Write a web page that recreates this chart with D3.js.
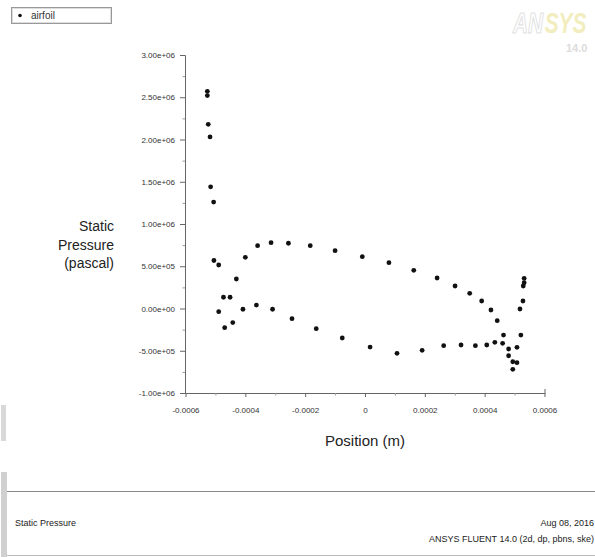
<!DOCTYPE html>
<html>
<head>
<meta charset="utf-8">
<script src="https://cdn.jsdelivr.net/npm/d3@7"></script>
<style>
  html, body { margin: 0; padding: 0; background: #fff; }
  svg { display: block; font-family: "Liberation Sans", Arial, sans-serif; }
</style>
</head>
<body>
<svg id="chart" width="595" height="557"></svg>
<script>
// Position (m) of each airfoil face
const positionM = [
  -0.000527, -0.000527, -0.000524, -0.000518, -0.000516, -0.000506,
  -0.000505, -0.000489, -0.000430, -0.000400, -0.000359, -0.000314,
  -0.000256, -0.000183, -0.000100, -0.000009, 0.000080, 0.000163,
  0.000241, 0.000301, 0.000350, 0.000390, 0.000421, 0.000442, 0.000463,
  0.000480, 0.000480, 0.000494, 0.000508, 0.000494, 0.000508, 0.000521,
  0.000518, 0.000528, 0.000529, 0.000532, 0.000532,
  0.000460, 0.000434, 0.000407, 0.000369, 0.000321, 0.000263, 0.000191,
  0.000107, 0.000017, -0.000076, -0.000163, -0.000244, -0.000309,
  -0.000363, -0.000408, -0.000442, -0.000469, -0.000489, -0.000473, -0.000451
];
// Static pressure (pascal)
const staticPressure = [
  2.57e6, 2.52e6, 2.18e6, 2.03e6, 1.44e6, 1.26e6,
  0.568e6, 0.515e6, 0.349e6, 0.606e6, 0.743e6, 0.779e6,
  0.772e6, 0.743e6, 0.684e6, 0.613e6, 0.542e6, 0.452e6,
  0.361e6, 0.266e6, 0.180e6, 0.089e6, -0.018e6, -0.144e6, -0.314e6,
  -0.479e6, -0.559e6, -0.630e6, -0.641e6, -0.720e6, -0.459e6, -0.314e6,
  -0.006e6, 0.089e6, 0.266e6, 0.305e6, 0.357e6,
  -0.412e6, -0.400e6, -0.432e6, -0.440e6, -0.432e6, -0.440e6, -0.495e6,
  -0.530e6, -0.456e6, -0.349e6, -0.239e6, -0.121e6, -0.009e6,
  0.041e6, -0.009e6, -0.166e6, -0.227e6, -0.038e6, 0.133e6, 0.133e6
];
const xTickValues = [-0.0006, -0.0004, -0.0002, 0, 0.0002, 0.0004, 0.0006];
const xTickLabels = ["-0.0006", "-0.0004", "-0.0002", "0", "0.0002", "0.0004", "0.0006"];
const xMinorValues = [-0.0005, -0.0003, -0.0001, 0.0001, 0.0003, 0.0005];
const yTickValues = [-1e6, -0.5e6, 0, 0.5e6, 1e6, 1.5e6, 2e6, 2.5e6, 3e6];
const yTickLabels = ["-1.00e+06", "-5.00e+05", "0.00e+00", "5.00e+05", "1.00e+06", "1.50e+06", "2.00e+06", "2.50e+06", "3.00e+06"];
const yMinorValues = [-0.75e6, -0.25e6, 0.25e6, 0.75e6, 1.25e6, 1.75e6, 2.25e6, 2.75e6];
const seriesName = "airfoil";
const yTitleLines = ["Static", "Pressure", "(pascal)"];
const xTitle = "Position (m)";
const footerLeft = "Static Pressure";
const footerRight = ["Aug 08, 2016", "ANSYS FLUENT 14.0 (2d, dp, pbns, ske)"];

const svg = d3.select("#chart");
const x = d3.scaleLinear().domain([-0.0006, 0.0006]).range([185.5, 544.5]);
const y = d3.scaleLinear().domain([-1e6, 3e6]).range([393, 55]);

// ANSYS watermark logo
const logo = svg.append("g").attr("opacity", 0.55)
  .attr("transform", "translate(513,33) scale(0.72,1)");
logo.append("text").attr("x", 0).attr("y", 0)
  .attr("font-size", 29).attr("font-weight", "bold").attr("font-style", "italic")
  .attr("fill", "none").attr("stroke", "#c8c8c8").attr("stroke-width", 1.2)
  .text("AN");
logo.append("text").attr("x", 44).attr("y", 0)
  .attr("font-size", 29).attr("font-weight", "bold").attr("font-style", "italic")
  .attr("fill", "#e9e08a")
  .text("SYS");
svg.append("text").attr("x", 566).attr("y", 52).attr("opacity", 0.55)
  .attr("font-size", 11).attr("fill", "#c0c0c0").attr("font-weight", "bold")
  .text("14.0");

// Legend
const lg = svg.append("g");
lg.append("rect").attr("x", 11.5).attr("y", 7.5).attr("width", 100).attr("height", 16)
  .attr("fill", "#fff").attr("stroke", "#999").attr("stroke-width", 1);
lg.append("rect").attr("x", 12.5).attr("y", 8.5).attr("width", 98).attr("height", 14)
  .attr("fill", "none").attr("stroke", "#ddd").attr("stroke-width", 1);
lg.append("circle").attr("cx", 20).attr("cy", 15.5).attr("r", 1.8).attr("fill", "#111");
lg.append("text").attr("x", 31).attr("y", 19).attr("font-size", 10).attr("fill", "#333").text(seriesName);

// Axes
const axisColor = "#666";
const yAxis = d3.axisLeft(y).tickValues(yTickValues).tickSize(5)
  .tickFormat((d, i) => yTickLabels[i]);
const yg = svg.append("g").attr("transform", "translate(185,0)").call(yAxis);
yg.select(".domain").attr("stroke", axisColor).attr("d", "M-5,55.5H0.5V393.5");
yg.selectAll(".tick line").attr("stroke", axisColor);
yg.selectAll(".tick text").attr("font-size", 8).attr("fill", "#333")
  .attr("font-family", "'Liberation Sans', Arial, sans-serif").attr("x", -10);
const yMinor = d3.axisLeft(y).tickValues(yMinorValues).tickSize(2.5).tickFormat("");
const ymg = svg.append("g").attr("transform", "translate(185,0)").call(yMinor);
ymg.select(".domain").remove();
ymg.selectAll(".tick line").attr("stroke", "#999");

const xAxis = d3.axisBottom(x).tickValues(xTickValues).tickSize(4)
  .tickFormat((d, i) => xTickLabels[i]);
const xg = svg.append("g").attr("transform", "translate(0,393)").call(xAxis);
xg.select(".domain").attr("stroke", axisColor).attr("d", "M185,0.5H545V-4");
xg.selectAll(".tick line").attr("stroke", axisColor);
xg.selectAll(".tick text").attr("font-size", 8).attr("fill", "#333")
  .attr("font-family", "'Liberation Sans', Arial, sans-serif").attr("y", 14);
const xMinor = d3.axisBottom(x).tickValues(xMinorValues).tickSize(2.5).tickFormat("");
const xmg = svg.append("g").attr("transform", "translate(0,393)").call(xMinor);
xmg.select(".domain").remove();
xmg.selectAll(".tick line").attr("stroke", "#999");

// Axis titles
const yt = svg.append("text").attr("text-anchor", "end").attr("font-size", 14).attr("fill", "#222");
yTitleLines.forEach((t, i) => {
  yt.append("tspan").attr("x", 114).attr("y", 231 + i * 18.5).text(t);
});
svg.append("text").attr("x", 365).attr("y", 446).attr("text-anchor", "middle")
  .attr("font-size", 15).attr("fill", "#222").text(xTitle);

// Points
const data = positionM.map((p, i) => ({ p, v: staticPressure[i] }));
svg.append("g").selectAll("circle").data(data).join("circle")
  .attr("cx", d => x(d.p)).attr("cy", d => y(d.v)).attr("r", 2.4).attr("fill", "#111");

// Left window edge strips
svg.append("rect").attr("x", 1).attr("y", 405).attr("width", 5).attr("height", 36).attr("fill", "#d8d8d8");
svg.append("rect").attr("x", 1).attr("y", 472).attr("width", 6).attr("height", 85).attr("fill", "#d0d0d0");

// Footer
svg.append("line").attr("x1", 7).attr("x2", 595).attr("y1", 491.5).attr("y2", 491.5)
  .attr("stroke", "#888").attr("stroke-width", 1.2);
svg.append("line").attr("x1", 7).attr("x2", 595).attr("y1", 555.5).attr("y2", 555.5)
  .attr("stroke", "#bbb").attr("stroke-width", 1);
svg.append("text").attr("x", 15).attr("y", 526).attr("font-size", 9).attr("fill", "#222")
  .text(footerLeft);
svg.append("text").attr("x", 594).attr("y", 526).attr("text-anchor", "end").attr("font-size", 9).attr("fill", "#222")
  .text(footerRight[0]);
svg.append("text").attr("x", 594).attr("y", 542).attr("text-anchor", "end").attr("font-size", 9).attr("fill", "#222")
  .text(footerRight[1]);
</script>
</body>
</html>
